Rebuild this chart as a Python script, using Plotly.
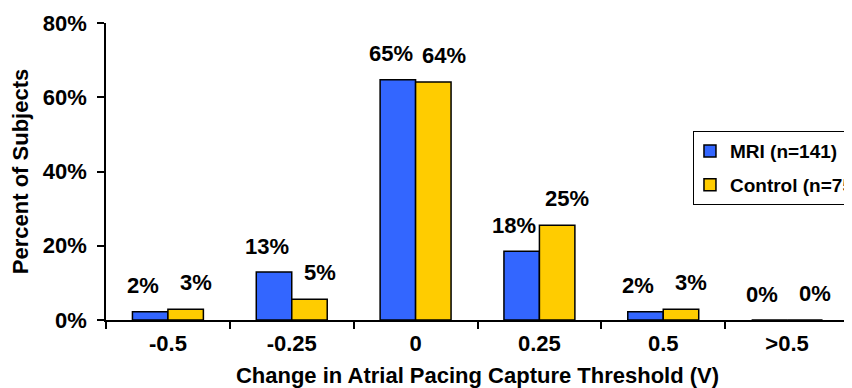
import plotly.graph_objects as go

categories = ["-0.5", "-0.25", "0", "0.25", "0.5", ">0.5"]
mri_values = [2.2, 12.9, 64.7, 18.5, 2.2, 0.0]
control_values = [2.9, 5.6, 64.1, 25.5, 2.9, 0.0]
mri_labels = ["2%", "13%", "65%", "18%", "2%", "0%"]
control_labels = ["3%", "5%", "64%", "25%", "3%", "0%"]
y_ticks = [0, 20, 40, 60, 80]
y_tick_labels = ["0%", "20%", "40%", "60%", "80%"]

FONT = "Liberation Sans, Arial, sans-serif"
BLUE = "#3366FF"
YELLOW = "#FFCC00"
FS = 22

fig = go.Figure()
fig.add_trace(go.Bar(x=categories, y=mri_values, name="MRI (n=141)", legendgroup="a",
                     marker=dict(color=BLUE, line=dict(color="black", width=1.5))))
fig.add_trace(go.Bar(x=categories, y=control_values, name="Control (n=75)", legendgroup="b",
                     marker=dict(color=YELLOW, line=dict(color="black", width=1.5))))

annots = []
for i, (v, t) in enumerate(zip(mri_values, mri_labels)):
    annots.append(dict(x=i, y=v, text=t, xref="x", yref="y", showarrow=False,
                       xshift=-25, yshift=26, yanchor="middle",
                       font=dict(family=FONT, size=FS, color="black", weight="bold")))
for i, (v, t) in enumerate(zip(control_values, control_labels)):
    annots.append(dict(x=i, y=v, text=t, xref="x", yref="y", showarrow=False,
                       xshift=28, yshift=27, yanchor="middle",
                       font=dict(family=FONT, size=FS, color="black", weight="bold")))

fig.update_layout(
    width=844, height=380,
    margin=dict(l=98, r=3, t=15, b=68, autoexpand=False),
    paper_bgcolor="white", plot_bgcolor="white",
    barmode="group", bargap=0.427, bargroupgap=0,
    font=dict(family=FONT, size=FS, color="black", weight="bold"),
    annotations=annots,
    legend=dict(x=0.79, y=0.636, xanchor="left", yanchor="top",
                bordercolor="black", borderwidth=1, bgcolor="white",
                font=dict(family=FONT, size=19, color="black", weight="bold"),
                traceorder="grouped", tracegroupgap=6, itemwidth=30,
                indentation=-4),
    xaxis=dict(
        type="category", categoryorder="array", categoryarray=categories,
        title=dict(text="Change in Atrial Pacing Capture Threshold (V)", standoff=12,
                   font=dict(family=FONT, size=FS, weight="bold")),
        showline=True, linecolor="black", linewidth=1.5,
        ticks="outside", ticklen=7, tickcolor="black", tickwidth=1.5,
        tickson="boundaries", showgrid=False, ticklabelstandoff=3,
        tickfont=dict(family=FONT, size=FS, weight="bold"),
    ),
    yaxis=dict(
        title=dict(text="Percent of Subjects", standoff=11,
                   font=dict(family=FONT, size=FS, weight="bold")),
        range=[0, 80], tickmode="array", tickvals=y_ticks, ticktext=y_tick_labels,
        showline=True, linecolor="black", linewidth=1.5,
        ticks="outside", ticklen=7, tickcolor="black", tickwidth=1.5,
        showgrid=False, zeroline=False, ticklabelstandoff=6,
        tickfont=dict(family=FONT, size=FS, weight="bold"),
    ),
)

fig.write_html("out.html")
